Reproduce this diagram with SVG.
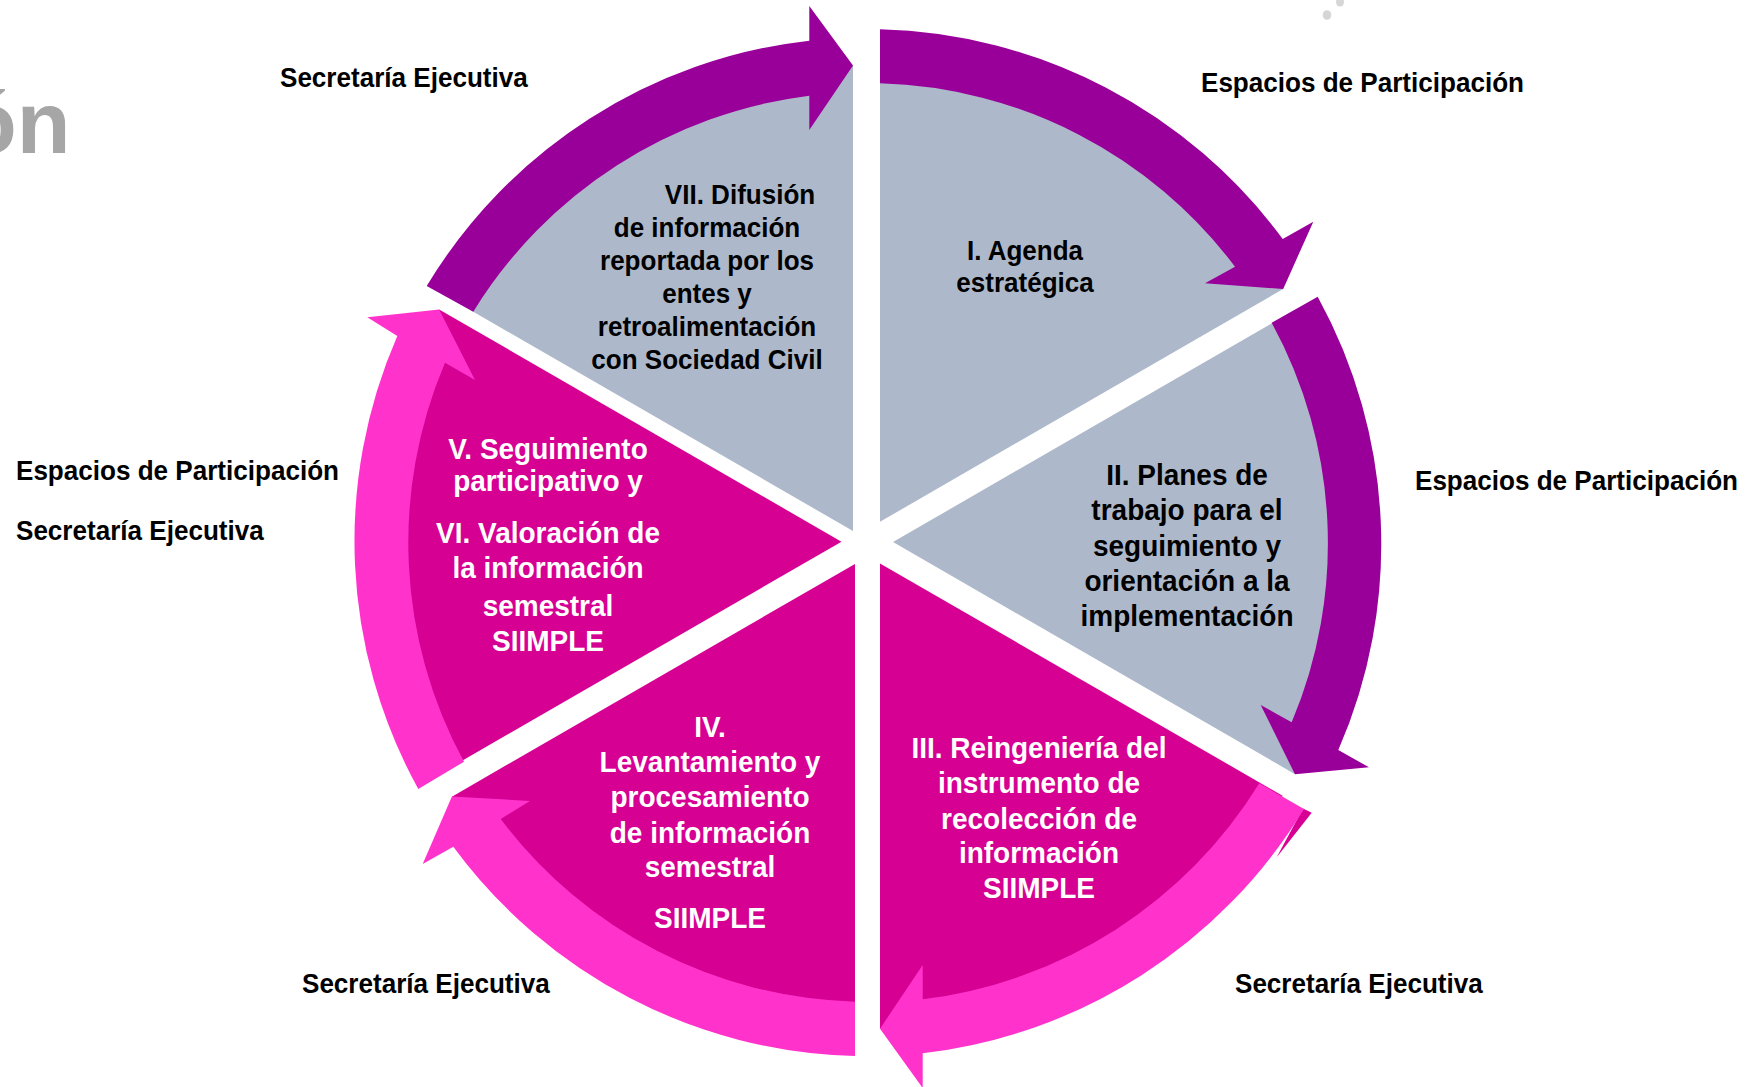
<svg xmlns="http://www.w3.org/2000/svg" width="1755" height="1087" viewBox="0 0 1755 1087">
<style>
.t{font-family:"Liberation Sans",Arial,sans-serif;font-weight:bold}
.s26{font-size:28px}
.s28{font-size:30px}
.sl{font-size:28.5px}
.k{fill:#000}
.w{fill:#fff}
.gray{fill:#ADB9CA}
.mag{fill:#D60093}
.pur{fill:#990099}
.pink{fill:#FF33CC}
</style>
<rect width="1755" height="1087" fill="#fff"/>
<g id="decor">
<text class="t" x="70.5" y="152.7" font-size="88" fill="#A6A6A6" text-anchor="end">ón</text>
<ellipse cx="1340" cy="2" rx="4" ry="4.5" fill="#D6D6D6"/>
<ellipse cx="1327" cy="15" rx="4.3" ry="4.8" fill="#D6D6D6"/>
</g>
<g id="node-I">
<path class="gray" d="M880,521.8 L880,55.2 A487,487 0 0 1 1283.15,289.03 Z"/>
<g transform="translate(1025,0) scale(0.93,1)">
<text class="t s26 k" text-anchor="middle"><tspan x="0" y="260">I. Agenda</tspan><tspan x="0" y="292">estratégica</tspan></text>
</g>
</g>
<g id="node-II">
<path class="gray" d="M893,542 L1295.1,309.85 A487,487 0 0 1 1295.1,774.15 Z"/>
<g transform="translate(1187,0) scale(0.933,1)">
<text class="t s28 k" text-anchor="middle"><tspan x="0" y="485">II. Planes de</tspan><tspan x="0" y="520">trabajo para el</tspan><tspan x="0" y="556">seguimiento y</tspan><tspan x="0" y="591">orientación a la</tspan><tspan x="0" y="626">implementación</tspan></text>
</g>
</g>
<g id="node-III">
<path class="mag" d="M880,563.4 L1282.62,795.82 A487,487 0 0 1 880,1028.83 Z"/>
<path class="mag" d="M1303,808.5 L1311.7,812.7 L1276.7,857.3 Z"/>
<g transform="translate(1039,0) scale(0.933,1)">
<text class="t s28 w" text-anchor="middle"><tspan x="0" y="758">III. Reingeniería del</tspan><tspan x="0" y="793.5">instrumento de</tspan><tspan x="0" y="829">recolección de</tspan><tspan x="0" y="863.5">información</tspan><tspan x="0" y="898.3">SIIMPLE</tspan></text>
</g>
</g>
<g id="node-IV">
<path class="mag" d="M855,563.9 L855,1028.85 A487,487 0 0 1 451.9,796.66 Z"/>
<g transform="translate(710,0) scale(0.933,1)">
<text class="t s28 w" text-anchor="middle"><tspan x="0" y="737">IV.</tspan><tspan x="0" y="771.7">Levantamiento y</tspan><tspan x="0" y="807">procesamiento</tspan><tspan x="0" y="843.3">de información</tspan><tspan x="0" y="877">semestral</tspan><tspan x="0" y="928.3">SIIMPLE</tspan></text>
</g>
</g>
<g id="node-V-VI">
<path class="mag" d="M841.5,541.7 L438.9,774.15 A487,487 0 0 1 439.15,309.4 Z"/>
<g transform="translate(548,0) scale(0.933,1)">
<text class="t s28 w" text-anchor="middle"><tspan x="0" y="459.3">V. Seguimiento</tspan><tspan x="0" y="491">participativo y</tspan><tspan x="0" y="543.3">VI. Valoración de</tspan><tspan x="0" y="578.5">la información</tspan><tspan x="0" y="616.5">semestral</tspan><tspan x="0" y="651">SIIMPLE</tspan></text>
</g>
</g>
<g id="node-VII">
<path class="gray" d="M853,531 L455.15,301.33 A477,477 0 0 1 853,65.2 Z"/>
<g transform="translate(707,0) scale(0.93,1)">
<text class="t s26 k" text-anchor="middle"><tspan x="35.5" y="204">VII. Difusión</tspan><tspan x="0" y="237">de información</tspan><tspan x="0" y="270.5">reportada por los</tspan><tspan x="0" y="303">entes y</tspan><tspan x="0" y="336">retroalimentación</tspan><tspan x="0" y="369">con Sociedad Civil</tspan></text>
</g>
</g>
<g id="connectors">
<path class="pur" d="M473.3,311.7 L426.7,286 A514,514 0 0 1 809.3,40.7 L809.3,6 L853,65.5 L809.3,130 L809.3,95.7 A462,462 0 0 0 473.3,311.7 Z"/>
<path class="pur" d="M880,83.3 L880,29.3 A516,516 0 0 1 1282.7,239 L1313.3,221.7 L1283.2,289 L1205,283.3 L1235,266.7 A460.6,460.6 0 0 0 880,83.3 Z"/>
<path class="pur" d="M1271.7,322.7 L1317.7,296.7 A514,514 0 0 1 1338.3,750 L1369,767.3 L1295,774.3 L1260.7,705 L1291.7,722.3 A461,461 0 0 0 1271.7,322.7 Z"/>
<path class="pink" d="M1259.3,783.3 L1304,809 A516,516 0 0 1 922.7,1053.3 L922.7,1088 L880,1028.8 L922.7,965 L922.7,999.3 A461,461 0 0 0 1259.3,783.3 Z"/>
<path class="pink" d="M855,1001.7 L855,1056 A514,514 0 0 1 453.3,846.7 L422.7,864 L451.9,796.6 L530,801 L500.7,819 A459,459 0 0 0 855,1001.7 Z"/>
<path class="pink" d="M464,761.7 L418.3,789 A513,513 0 0 1 397.3,336 L367.3,317.3 L439.1,309.4 L475,380 L445,362.7 A459,459 0 0 0 464,761.7 Z"/>
</g>
<g id="labels" class="t sl k">
<text transform="translate(280,87) scale(0.915,1)">Secretaría Ejecutiva</text>
<text transform="translate(1201,92) scale(0.915,1)">Espacios de Participación</text>
<text transform="translate(1415,490) scale(0.915,1)">Espacios de Participación</text>
<text transform="translate(16,480) scale(0.915,1)">Espacios de Participación</text>
<text transform="translate(16,540) scale(0.915,1)">Secretaría Ejecutiva</text>
<text transform="translate(302,993) scale(0.915,1)">Secretaría Ejecutiva</text>
<text transform="translate(1235,993) scale(0.915,1)">Secretaría Ejecutiva</text>
</g>
</svg>
